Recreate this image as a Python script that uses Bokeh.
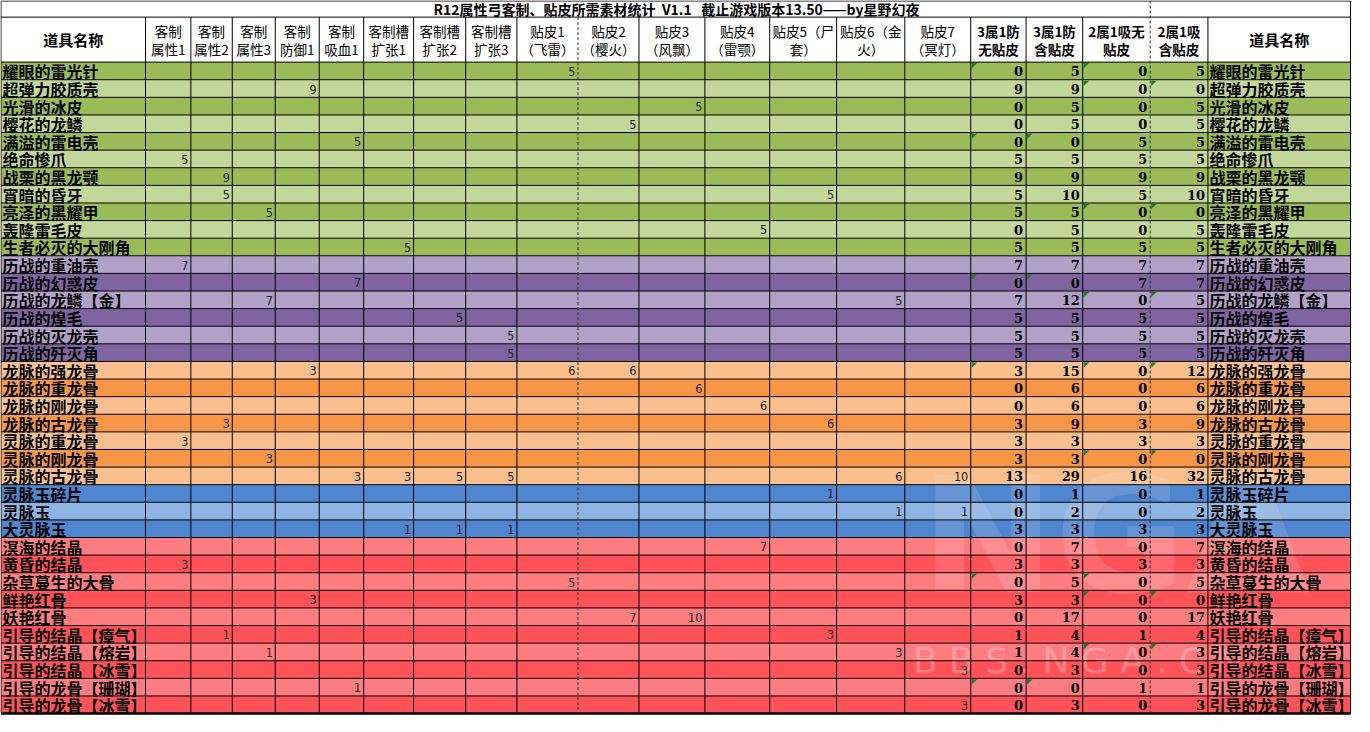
from bokeh.plotting import figure
from bokeh.models import Range1d
from bokeh.core.properties import value
from bokeh.embed import file_html
from bokeh.resources import INLINE

# ---------------- data ----------------
title_text = "R12属性弓客制、贴皮所需素材统计\u00a0\u00a0V1.1\u00a0\u00a0\u00a0截止游戏版本13.50——by星野幻夜"

header_line1 = ["客制", "客制", "客制", "客制", "客制", "客制槽", "客制槽", "客制槽",
                "贴皮1", "贴皮2", "贴皮3", "贴皮4", "贴皮5（尸", "贴皮6（金", "贴皮7",
                "3属1防", "3属1防", "2属1吸无", "2属1吸"]
header_line2 = ["属性1", "属性2", "属性3", "防御1", "吸血1", "扩张1", "扩张2", "扩张3",
                "（飞雷）", "（樱火）", "（风飘）", "（雷颚）", "套）", "火）", "（冥灯）",
                "无贴皮", "含贴皮", "贴皮", "含贴皮"]
name_header = "道具名称"

names = ["耀眼的雷光针", "超弹力胶质壳", "光滑的冰皮", "樱花的龙鳞", "满溢的雷电壳",
         "绝命惨爪", "战栗的黑龙颚", "宵暗的昏牙", "亮泽的黑耀甲", "轰隆雷毛皮",
         "生者必灭的大刚角",
         "历战的重油壳", "历战的幻惑皮", "历战的龙鳞【金】", "历战的煌毛", "历战的灭龙壳",
         "历战的歼灭角",
         "龙脉的强龙骨", "龙脉的重龙骨", "龙脉的刚龙骨", "龙脉的古龙骨", "灵脉的重龙骨",
         "灵脉的刚龙骨", "灵脉的古龙骨",
         "灵脉玉碎片", "灵脉玉", "大灵脉玉",
         "溟海的结晶", "黄昏的结晶", "杂草蔓生的大骨", "鲜艳红骨", "妖艳红骨",
         "引导的结晶【瘴气】", "引导的结晶【熔岩】", "引导的结晶【冰雪】",
         "引导的龙骨【珊瑚】", "引导的龙骨【冰雪】"]

group_sizes = [11, 6, 7, 3, 10]
group_dark = ["#9BBB59", "#8064A2", "#F79646", "#4F86CF", "#FF5359"]
group_light = ["#C4D79B", "#B1A0C7", "#FABF8F", "#8DB4E2", "#FF7C80"]

# input columns (item -> count)
attr1 = {"绝命惨爪": 5, "历战的重油壳": 7, "灵脉的重龙骨": 3, "黄昏的结晶": 3}
attr2 = {"战栗的黑龙颚": 9, "宵暗的昏牙": 5, "龙脉的古龙骨": 3, "引导的结晶【瘴气】": 1}
attr3 = {"亮泽的黑耀甲": 5, "历战的龙鳞【金】": 7, "灵脉的刚龙骨": 3, "引导的结晶【熔岩】": 1}
defense1 = {"超弹力胶质壳": 9, "龙脉的强龙骨": 3, "鲜艳红骨": 3}
vamp1 = {"满溢的雷电壳": 5, "历战的幻惑皮": 7, "灵脉的古龙骨": 3, "引导的龙骨【珊瑚】": 1}
slot1 = {"生者必灭的大刚角": 5, "灵脉的古龙骨": 3, "大灵脉玉": 1}
slot2 = {"历战的煌毛": 5, "灵脉的古龙骨": 5, "大灵脉玉": 1}
slot3 = {"历战的灭龙壳": 5, "历战的歼灭角": 5, "灵脉的古龙骨": 5, "大灵脉玉": 1}
skin1 = {"耀眼的雷光针": 5, "龙脉的强龙骨": 6, "杂草蔓生的大骨": 5}
skin2 = {"樱花的龙鳞": 5, "龙脉的强龙骨": 6, "妖艳红骨": 7}
skin3 = {"光滑的冰皮": 5, "龙脉的重龙骨": 6, "妖艳红骨": 10}
skin4 = {"轰隆雷毛皮": 5, "龙脉的刚龙骨": 6, "溟海的结晶": 7}
skin5 = {"宵暗的昏牙": 5, "龙脉的古龙骨": 6, "灵脉玉碎片": 1, "引导的结晶【瘴气】": 3}
skin6 = {"历战的龙鳞【金】": 5, "灵脉的古龙骨": 6, "灵脉玉": 1, "引导的结晶【熔岩】": 3}
skin7 = {"灵脉的古龙骨": 10, "灵脉玉": 1, "引导的结晶【冰雪】": 3, "引导的龙骨【冰雪】": 3}

# summary columns
sum_3a1d_no = [0, 9, 0, 0, 0, 5, 9, 5, 5, 0, 5,
               7, 0, 7, 5, 5, 5,
               3, 0, 0, 3, 3, 3, 13,
               0, 0, 3,
               0, 3, 0, 3, 0, 1, 1, 0, 0, 0]
sum_3a1d_with = [5, 9, 5, 5, 0, 5, 9, 10, 5, 5, 5,
                 7, 0, 12, 5, 5, 5,
                 15, 6, 6, 9, 3, 3, 29,
                 1, 2, 3,
                 7, 3, 5, 3, 17, 4, 4, 3, 0, 3]
sum_2a1v_no = [0, 0, 0, 0, 5, 5, 9, 5, 0, 0, 5,
               7, 7, 0, 5, 5, 5,
               0, 0, 0, 3, 3, 0, 16,
               0, 0, 3,
               0, 3, 0, 0, 0, 1, 0, 0, 1, 0]
sum_2a1v_with = [5, 0, 5, 5, 5, 5, 9, 10, 0, 5, 5,
                 7, 7, 5, 5, 5, 5,
                 12, 6, 6, 9, 3, 0, 32,
                 1, 2, 3,
                 7, 3, 5, 0, 17, 4, 3, 3, 1, 3]

# cells showing the green "number stored as text" marker (item -> summary column indices)
text_flags = {"耀眼的雷光针": [0, 2], "超弹力胶质壳": [2, 3], "满溢的雷电壳": [0, 1],
              "亮泽的黑耀甲": [2, 3], "历战的幻惑皮": [0, 1], "历战的龙鳞【金】": [2, 3],
              "龙脉的强龙骨": [0, 2, 3], "灵脉的刚龙骨": [2, 3], "杂草蔓生的大骨": [0, 2],
              "鲜艳红骨": [2, 3], "引导的结晶【熔岩】": [2, 3], "引导的龙骨【珊瑚】": [0, 1]}

input_cols = [attr1, attr2, attr3, defense1, vamp1, slot1, slot2, slot3,
              skin1, skin2, skin3, skin4, skin5, skin6, skin7]
summary_cols = [sum_3a1d_no, sum_3a1d_with, sum_2a1v_no, sum_2a1v_with]

# ---------------- layout ----------------
col_edges = [0.5, 146.7, 192.6, 234.5, 278, 322.5, 367.5, 418, 470.7, 522.5, 584.3,
             646, 712.7, 778.3, 846, 915, 981.7, 1037.7, 1095, 1163.3, 1221.7, 1366]
dashed_edges = {10, 19}
TITLE_B = 17
HEAD_B = 63
ROW_H = 18
n = len(names)
TABLE_B = HEAD_B + ROW_H * n
FONT = "Noto Sans CJK SC"

p = figure(width=1354, height=716, output_backend="svg", toolbar_location=None,
           x_range=Range1d(0, 1370), y_range=Range1d(732, 0),
           min_border=0, outline_line_color=None, background_fill_color="white",
           border_fill_color="white")
p.axis.visible = False
p.grid.visible = False

# row backgrounds
row_colors = []
for g, cnt in enumerate(group_sizes):
    for _k in range(cnt):
        i = len(row_colors)
        row_colors.append(group_dark[g] if i % 2 == 0 else group_light[g])
tops = [HEAD_B + ROW_H * i for i in range(n)]
bots = [t + ROW_H for t in tops]
p.quad(left=[col_edges[0]] * n, right=[col_edges[-1]] * n, top=tops, bottom=bots,
       fill_color=row_colors, line_color=None)

# watermark
p.text(x=[1128], y=[548], text=["NGA"], text_font=value("DejaVu Sans"),
       text_font_size=value("160px"), text_font_style="bold",
       text_align="center", text_baseline="middle", text_color="white", text_alpha=0.13)
p.text(x=[1090], y=[675], text=["B B S . N G A . C N"], text_font=value("DejaVu Sans"),
       text_font_size=value("36px"), text_align="center", text_baseline="middle",
       text_color="white", text_alpha=0.25)

# horizontal grid lines
hy = [TITLE_B, HEAD_B] + bots[:-1]
p.segment(x0=[col_edges[0]] * len(hy), x1=[col_edges[-1]] * len(hy), y0=hy, y1=hy,
          line_color="black", line_width=1)
# outer border
p.segment(x0=[0.5, 0.5, 1366, 0.5], x1=[1366, 0.5, 1366, 1366],
          y0=[0.5, 0.5, 0.5, TABLE_B], y1=[0.5, TABLE_B, TABLE_B, TABLE_B],
          line_color="black", line_width=[1, 1, 1, 2.5])
# vertical inner lines
sx, sy0, sy1, dx, dy0, dy1 = [], [], [], [], [], []
for k, e in enumerate(col_edges[1:-1], start=1):
    if k in dashed_edges:
        dx.append(e); dy0.append(0 if k == 19 else TITLE_B); dy1.append(TABLE_B)
    else:
        sx.append(e); sy0.append(TITLE_B); sy1.append(TABLE_B)
p.segment(x0=sx, x1=sx, y0=sy0, y1=sy1, line_color="black", line_width=1)
p.segment(x0=dx, x1=dx, y0=dy0, y1=dy1, line_color="#333333", line_width=1,
          line_dash="3 2")

# title
p.text(x=[684], y=[8.5], text=[title_text], text_font=value(FONT),
       text_font_size=value("14px"), text_font_style="bold",
       text_align="center", text_baseline="middle", text_color="black")

# header
centers = [(col_edges[k] + col_edges[k + 1]) / 2 for k in range(len(col_edges) - 1)]
p.text(x=[centers[0], centers[-1]], y=[40, 40], text=[name_header, name_header],
       text_font=value(FONT), text_font_size=value("15px"), text_font_style="bold",
       text_align="center", text_baseline="middle", text_color="black")
hx = centers[1:-1]
normal_idx = list(range(15))
bold_idx = list(range(15, 19))
for idx, style in ((normal_idx, "normal"), (bold_idx, "bold")):
    p.text(x=[hx[i] for i in idx], y=[31] * len(idx), text=[header_line1[i] for i in idx],
           text_font=value(FONT), text_font_size=value("13.5px"), text_font_style=style,
           text_align="center", text_baseline="middle", text_color="black")
    p.text(x=[hx[i] for i in idx], y=[49.5] * len(idx), text=[header_line2[i] for i in idx],
           text_font=value(FONT), text_font_size=value("13.5px"), text_font_style=style,
           text_align="center", text_baseline="middle", text_color="black")

# item names (left and right)
ymid = [t + ROW_H / 2 + 0.5 for t in tops]
p.text(x=[2] * n, y=ymid, text=names, text_font=value(FONT),
       text_font_size=value("16px"), text_font_style="bold",
       text_align="left", text_baseline="middle", text_color="black")
p.text(x=[col_edges[20] + 1.5] * n, y=ymid, text=names, text_font=value(FONT),
       text_font_size=value("16px"), text_font_style="bold",
       text_align="left", text_baseline="middle", text_color="black")

# input values
vx, vy, vt = [], [], []
for c, col in enumerate(input_cols):
    right = col_edges[c + 2]
    for item, v in col.items():
        i = names.index(item)
        vx.append(right - 2.5); vy.append(ymid[i]); vt.append(str(v))
p.text(x=vx, y=vy, text=vt, text_font=value("DejaVu Sans Condensed"),
       text_font_size=value("12.5px"), text_align="right", text_baseline="middle",
       text_color="#222222")

# summary values
sxv, syv, stv = [], [], []
for c, col in enumerate(summary_cols):
    right = col_edges[c + 17]
    for i, v in enumerate(col):
        sxv.append(right - 3); syv.append(ymid[i]); stv.append(str(v))
p.text(x=sxv, y=syv, text=stv, text_font=value("DejaVu Serif"),
       text_font_size=value("13px"), text_font_style="bold",
       text_align="right", text_baseline="middle", text_color="black")

# green markers
txs, tys = [], []
for item, cols in text_flags.items():
    i = names.index(item)
    for c in cols:
        x0 = col_edges[c + 16] + 1
        y0 = tops[i] + 1
        txs.append([x0, x0 + 5.5, x0]); tys.append([y0, y0, y0 + 5.5])
p.patches(xs=txs, ys=tys, fill_color="#1F7A1F", line_color=None)

open("out.html", "w").write(file_html(p, INLINE))
